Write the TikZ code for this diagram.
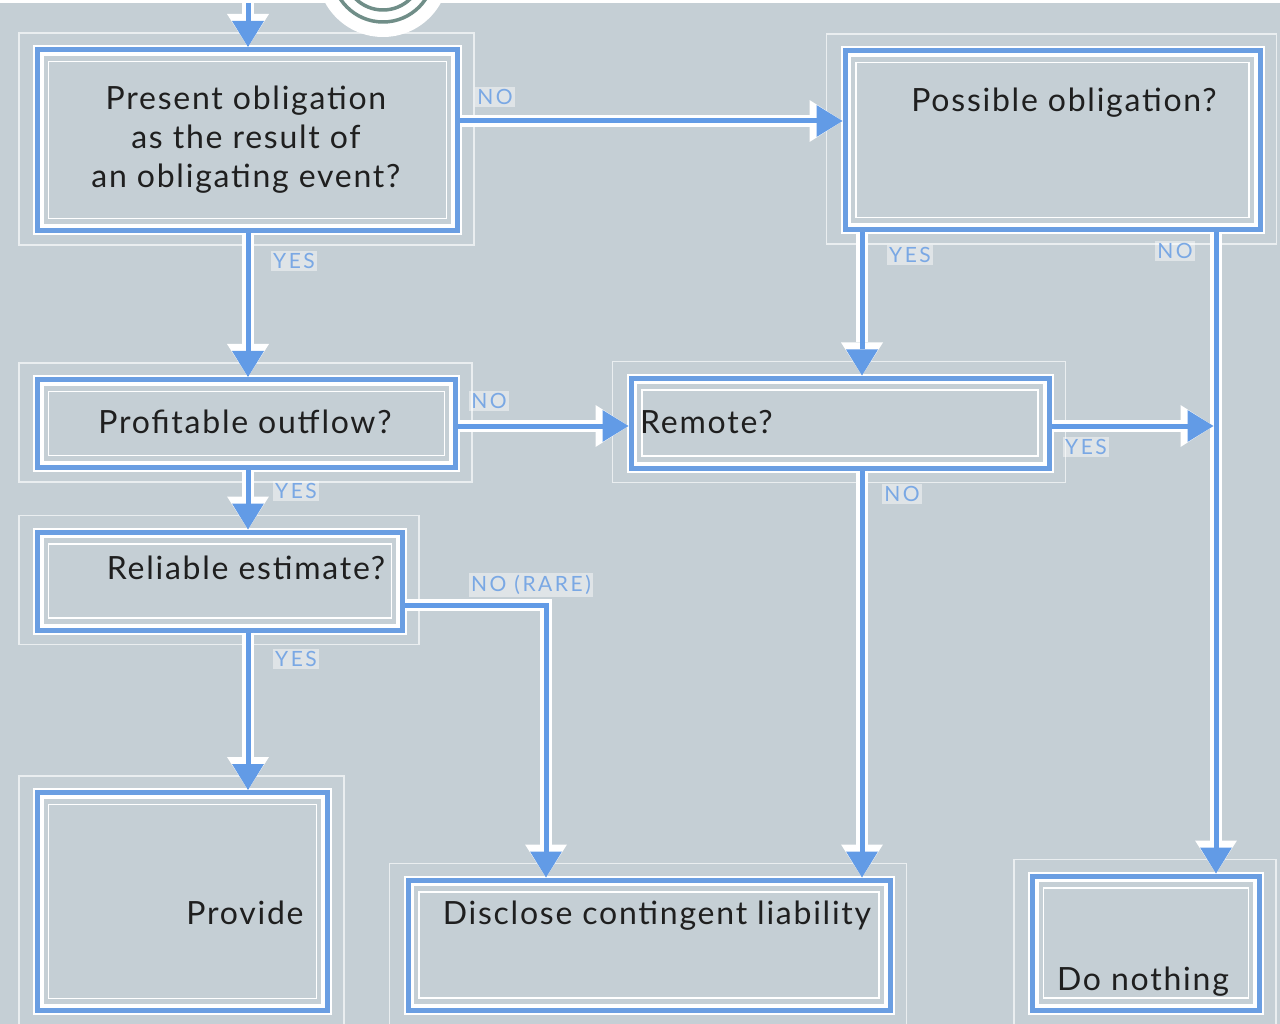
\documentclass[tikz,border=0pt]{standalone}
\usepackage{fontspec}
\setmainfont{Lato}
\newfontfamily\boxfont[LetterSpace=5.5]{Lato}
\newfontfamily\lblfont[LetterSpace=12]{Lato}
\usetikzlibrary{arrows.meta,calc}
\definecolor{bgc}{RGB}{197,207,213}
\definecolor{boxblue}{RGB}{106,158,226}
\definecolor{arrblue}{RGB}{98,155,230}
\definecolor{lblblue}{RGB}{122,168,228}
\definecolor{ringc}{RGB}{112,142,136}
\pgfdeclarelayer{bgl}
\pgfsetlayers{bgl,main}
\begin{document}
\begin{tikzpicture}[x=1pt,y=-1pt,
  box/.style={draw=boxblue, line width=5pt, rectangle, inner sep=0pt,
    preaction={draw=white, line width=9pt},
    path picture={
      \draw[white, line width=2.5pt] ([shift={(5pt,-5pt)}]path picture bounding box.north west) rectangle ([shift={(-5pt,5pt)}]path picture bounding box.south east);
      \draw[white, line width=1.5pt] ([shift={(11pt,-12pt)}]path picture bounding box.north west) rectangle ([shift={(-11pt,12pt)}]path picture bounding box.south east);
    }},
  oframe/.style={draw=white, line width=1.3pt, opacity=0.65},
  conn/.style={draw=arrblue, line width=5pt,
    -{Triangle[width=32pt,length=26pt,line width=0pt]},
    preaction={draw=white, line width=12pt, -{Triangle[width=42pt,length=33pt,line width=0pt]}}},
  lbl/.style={font=\lblfont\fontsize{21}{21}\selectfont, text=lblblue, fill=white, fill opacity=0.45, text opacity=1, inner sep=2pt},
  txt/.style={font=\boxfont\fontsize{32}{39}\selectfont, text=black!88, align=center, inner sep=0pt}
]
\clip (0,0) rectangle (1280,1024);
\useasboundingbox (0,0) rectangle (1280,1024);
\begin{pgfonlayer}{bgl}
  \fill[bgc] (0,0) rectangle (1280,1024);
  \draw[white, line width=3pt] (0,1.5) -- (1280,1.5);
\end{pgfonlayer}

% top decoration
\fill[white] (383,-29) circle[radius=66pt];
\draw[ringc, line width=3.5pt] (383,-29) circle[radius=51pt];
\draw[ringc, line width=3.5pt] (383,-29) circle[radius=39pt];

% boxes
\node[box, minimum width=420pt, minimum height=181pt] (b1) at (247.5,140) {};
\node[box, minimum width=415pt, minimum height=179pt] (b2) at (1052.5,140) {};
\node[box, minimum width=418pt, minimum height=88pt] (b3) at (246.5,423.5) {};
\node[box, minimum width=418pt, minimum height=90pt] (b4) at (840,423) {};
\node[box, minimum width=365pt, minimum height=98pt] (b5) at (220,581) {};
\node[box, minimum width=290pt, minimum height=218pt] (b6) at (182.5,901.5) {};
\node[box, minimum width=482pt, minimum height=130pt] (b7) at (649,945) {};
\node[box, minimum width=227pt, minimum height=134pt] (b8) at (1146,943) {};

\begin{pgfonlayer}{bgl}
  \foreach \n in {b1,b2,b3,b4,b5,b6,b7,b8}
    \draw[oframe] ([shift={(-16pt,14pt)}]\n.north west) rectangle ([shift={(14pt,-12pt)}]\n.south east);
\end{pgfonlayer}

% texts
\node[txt] (t1) at (246,140) {Present obligation\\as the result of\\an obligating event?};
\node[txt] (t2) at (1064,103) {Possible obligation?};
\node[txt] (t3) at (245,422) {Profitable outflow?};
\node[txt, anchor=west] (t4) at (640,422) {Remote?};
\node[txt] (t5) at (246,568) {Reliable estimate?};
\node[txt] (t6) at (245,913) {Provide};
\node[txt] (t7) at (657,916) {Disclose contingent liability};
\node[txt] (t8) at (1143,982) {Do nothing};

% connector helpers
\coordinate (xa) at (248,0);
\coordinate (xb) at (862,0);
\coordinate (xc) at (1216,0);
\coordinate (xd) at (546,0);
\coordinate (entry) at (248,3);
\coordinate (jn) at (1213.5,426);

% connectors
\draw[conn] (entry) -- (b1.north -| xa);
\draw[conn] ([yshift=19pt]b1.east) -- ([yshift=19pt]b2.west);
\draw[conn] (b1.south -| xa) -- (b3.north -| xa);
\draw[conn] (b2.south -| xb) -- (b4.north -| xb);
\draw[conn] (b2.south -| xc) -- (b8.north -| xc);
\draw[conn] (b3.east |- jn) -- (b4.west |- jn);
\draw[conn] (b4.east |- jn) -- (jn);
\draw[conn] (b3.south -| xa) -- (b5.north -| xa);
\draw[conn] (b4.south -| xb) -- (b7.north -| xb);
\draw[conn] ([yshift=-24pt]b5.east) -| (b7.north -| xd);
\draw[conn] (b5.south -| xa) -- (b6.north -| xa);

% labels
\node[lbl] (l1) at (495,97) {NO};
\node[lbl] (l2) at (294,261) {YES};
\node[lbl] (l3) at (910,255) {YES};
\node[lbl] (l4) at (1175,251) {NO};
\node[lbl] (l5) at (489,401) {NO};
\node[lbl] (l6) at (1086,447) {YES};
\node[lbl] (l7) at (296,491) {YES};
\node[lbl] (l8) at (902,494) {NO};
\node[lbl] (l9) at (531,585) {NO (RARE)};
\node[lbl] (l10) at (296,659) {YES};
\end{tikzpicture}
\end{document}
